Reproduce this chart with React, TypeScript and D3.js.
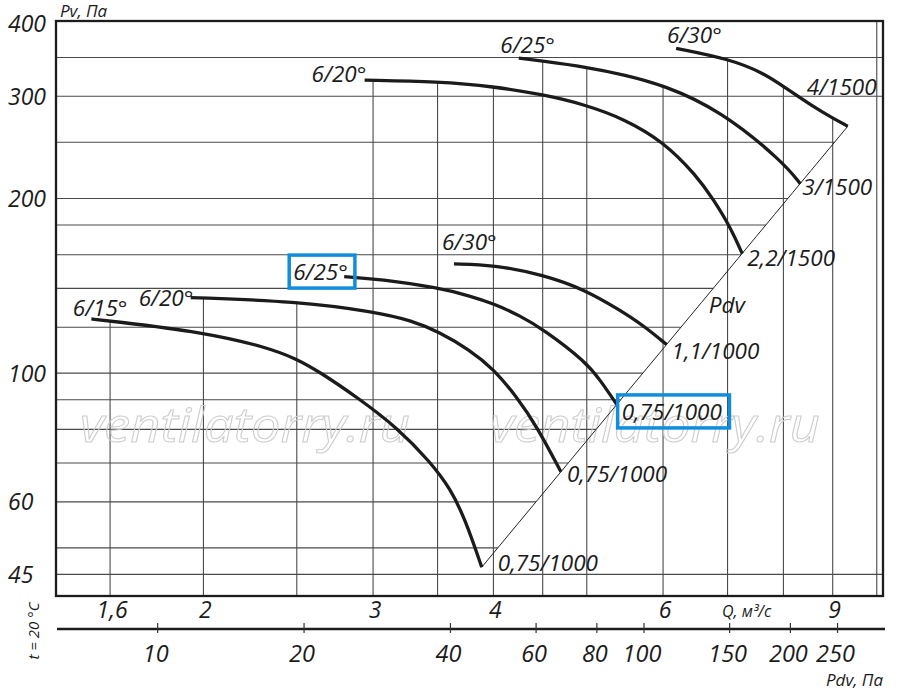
import React, { useEffect, useRef } from 'react';
import * as d3 from 'd3';

// Q, м³/с
const qTicks = [1.6, 2, 3, 4, 6, 9];
const qGrid = [1.6, 2, 2.5, 3, 3.5, 4, 4.5, 5, 6, 7, 8, 9, 10];
// Pv, Па
const pvTicks = [45, 60, 100, 200, 300, 400];
const pvGrid = [45, 50, 60, 70, 80, 90, 100, 120, 140, 160, 180, 200, 250, 300, 350];
// Pdv, Па
const pdvTicks = [10, 20, 40, 60, 80, 100, 150, 200, 250];
// Pdv = k * Q^2 (линия Pdv)
const pdvCoef = 3.06;

const bladeLabels = ['6/15°', '6/20°', '6/25°', '6/30°', '6/20°', '6/25°', '6/30°'];
const motorLabels = ['0,75/1000', '0,75/1000', '0,75/1000', '1,1/1000', '2,2/1500', '3/1500', '4/1500'];

// 1000 об/мин
const q15a = [1.53, 1.6, 2.0, 2.33, 2.5, 2.64, 2.89, 3.18, 3.44, 3.61, 3.74, 3.89];
const pv15a = [124, 123, 117.7, 110.8, 105.8, 100.5, 90.8, 80.5, 70.3, 63.2, 55.9, 46.3];
const q20a = [1.94, 2.5, 3.0, 3.3, 3.51, 3.78, 4.0, 4.23, 4.44, 4.7];
const pv20a = [135, 133, 127.7, 123.1, 117.8, 109.7, 101.7, 91, 80.8, 67.6];
const q25a = [2.8, 3.05, 3.51, 3.78, 4.0, 4.26, 4.51, 4.99, 5.16, 5.37];
const pv25a = [146.7, 145.2, 140.3, 135.9, 131.8, 125.7, 118.9, 104.6, 97.4, 88.4];
const q30a = [3.64, 4.0, 4.51, 4.98, 5.41, 5.75, 6.05];
const pv30a = [154.3, 153.7, 147.7, 139.2, 128.5, 120.2, 112];
// 1500 об/мин
const q20b = [2.94, 3.51, 4.0, 4.51, 4.99, 5.46, 6.0, 6.5, 6.77, 7.04, 7.25];
const pv20b = [320, 318, 312, 302, 290, 274.5, 251, 219, 199, 179, 160.7];
const q25b = [4.25, 4.51, 4.99, 5.46, 6.0, 6.88, 8.0, 8.33];
const pv25b = [349, 345, 337, 327, 314, 284, 231, 212];
const q30b = [6.19, 7.03, 7.63, 8.0, 8.59, 8.99, 9.33];
const pv30b = [363, 348, 329, 312, 288, 275.5, 266.4];

const curveQ = [q15a, q20a, q25a, q30a, q20b, q25b, q30b];
const curvePv = [pv15a, pv20a, pv25a, pv30a, pv20b, pv25b, pv30b];

// смещения подписей (px)
const startLabelOffset = [[-18.6, -3], [-52, 8], [-51, 3.5], [-12, -14], [-53, 2], [-18.5, -5.5], [-9, -5]];
const endLabelOffset = [[16, 3.5], [6, 10], [5, 15.7], [5, 14], [5, 12], [2, 11], [-41, -31]];
const highlighted = 2;

const W = 900;
const H = 695;
const FONT = "'Open Sans', 'DejaVu Sans', sans-serif";

const pvAt = (qs: number[], ps: number[], q: number): number | null => {
	if (q < qs[0] || q > qs[qs.length - 1]) return null;
	for (let i = 0; i < qs.length - 1; i++) {
		if (q >= qs[i] && q <= qs[i + 1]) {
			const t = (Math.log(q) - Math.log(qs[i])) / (Math.log(qs[i + 1]) - Math.log(qs[i]));
			return Math.exp(Math.log(ps[i]) + t * (Math.log(ps[i + 1]) - Math.log(ps[i])));
		}
	}
	return ps[ps.length - 1];
};

const FanChart: React.FC = () => {
	const svgRef = useRef<SVGSVGElement | null>(null);

	useEffect(() => {
		if (!svgRef.current) return;
		const left = 56;
		const right = 883;
		const top = 21;
		const bottom = 596;
		const pdvY = 629;

		const x = d3.scaleLog().domain([1.406, 10.15]).range([left, right]);
		const y = d3.scaleLog().domain([41.3, 404.5]).range([bottom, top]);
		const xPdv = d3.scaleLog().domain([6.18, 313]).range([left, 885]);

		const svg = d3.select(svgRef.current);
		svg.selectAll('*').remove();
		svg.append('rect').attr('width', W).attr('height', H).attr('fill', 'white');

		const ends = curveQ.map((q) => q[q.length - 1]);
		const diagQ0 = d3.min(ends) as number;
		const diagQ1 = d3.max(ends) as number;
		const diagP0 = pdvCoef * diagQ0 * diagQ0;
		const diagP1 = pdvCoef * diagQ1 * diagQ1;

		// сетка
		const grid = svg.append('g').attr('stroke', '#4a4a4a').attr('stroke-width', 1.1);
		grid
			.selectAll('line.h')
			.data(pvGrid)
			.join('line')
			.attr('class', 'h')
			.attr('x1', left)
			.attr('x2', (p) => (p >= diagP0 && p <= diagP1 ? x(Math.sqrt(p / pdvCoef)) : right))
			.attr('y1', (p) => y(p))
			.attr('y2', (p) => y(p));
		grid
			.selectAll('line.v')
			.data(qGrid)
			.join('line')
			.attr('class', 'v')
			.attr('x1', (q) => x(q))
			.attr('x2', (q) => x(q))
			.attr('y1', (q) => {
				const vals = curveQ
					.map((qs, i) => pvAt(qs, curvePv[i], q))
					.filter((v) => v !== null) as number[];
				return vals.length ? y(d3.max(vals) as number) : top;
			})
			.attr('y2', bottom);

		// водяной знак
		svg
			.append('g')
			.selectAll('text')
			.data([80, 490])
			.join('text')
			.attr('x', (d) => d)
			.attr('y', 442)
			.attr('textLength', 330)
			.attr('lengthAdjust', 'spacingAndGlyphs')
			.attr('font-family', FONT)
			.attr('font-style', 'italic')
			.attr('font-size', 47)
			.attr('fill', 'none')
			.attr('stroke', '#cdcdcd')
			.attr('stroke-width', 1)
			.text('ventilatorry.ru');

		// рамка
		svg
			.append('rect')
			.attr('x', left)
			.attr('y', top)
			.attr('width', right - left)
			.attr('height', bottom - top)
			.attr('fill', 'none')
			.attr('stroke', '#1c1c1c')
			.attr('stroke-width', 2.3);

		// линия Pdv
		const diagPts = d3.range(0, 21).map((i) => diagQ0 * Math.pow(diagQ1 / diagQ0, i / 20));
		svg
			.append('path')
			.attr('d', d3.line<number>().x((q) => x(q)).y((q) => y(pdvCoef * q * q))(diagPts))
			.attr('fill', 'none')
			.attr('stroke', '#222')
			.attr('stroke-width', 1);

		// кривые
		const line = d3
			.line<[number, number]>()
			.x((d) => x(d[0]))
			.y((d) => y(d[1]))
			.curve(d3.curveBasis);
		svg
			.append('g')
			.selectAll('path')
			.data(curveQ.map((qs, i) => qs.map((q, j) => [q, curvePv[i][j]] as [number, number])))
			.join('path')
			.attr('d', (d) => line(d))
			.attr('fill', 'none')
			.attr('stroke', '#1b1b1b')
			.attr('stroke-width', 3.3);

		const labels = svg
			.append('g')
			.attr('font-family', FONT)
			.attr('font-style', 'italic')
			.attr('font-size', 22.5)
			.attr('fill', '#1b1b1b');

		const boxes: SVGTextElement[] = [];
		curveQ.forEach((qs, i) => {
			const ps = curvePv[i];
			const s = labels
				.append('text')
				.attr('x', x(qs[0]) + startLabelOffset[i][0])
				.attr('y', y(ps[0]) + startLabelOffset[i][1])
				.text(bladeLabels[i]);
			const n = qs.length - 1;
			const e = labels
				.append('text')
				.attr('x', x(qs[n]) + endLabelOffset[i][0])
				.attr('y', y(ps[n]) + endLabelOffset[i][1])
				.text(motorLabels[i]);
			if (i === highlighted) boxes.push(s.node() as SVGTextElement, e.node() as SVGTextElement);
		});

		boxes.forEach((t) => {
			const b = t.getBBox();
			svg
				.append('rect')
				.attr('x', b.x - 4)
				.attr('y', b.y - 1)
				.attr('width', b.width + 11)
				.attr('height', b.height + 2)
				.attr('fill', 'none')
				.attr('stroke', '#108ddd')
				.attr('stroke-width', 3.5);
		});

		// подпись Pdv у линии
		const pdvAnchorQ = Math.sqrt(130 / pdvCoef);
		labels
			.append('text')
			.attr('x', x(pdvAnchorQ) + 11)
			.attr('y', y(130) + 6)
			.text('Pdv');

		// оси
		const axisText = svg
			.append('g')
			.attr('font-family', FONT)
			.attr('font-style', 'italic')
			.attr('fill', '#1b1b1b');

		axisText
			.append('g')
			.attr('font-size', 23)
			.selectAll('text')
			.data(pvTicks)
			.join('text')
			.attr('x', 8)
			.attr('y', (p) => y(p) + 8.5)
			.text((p) => String(p));

		axisText
			.append('g')
			.attr('font-size', 23)
			.attr('text-anchor', 'middle')
			.selectAll('text')
			.data(qTicks)
			.join('text')
			.attr('x', (q) => x(q) + 2)
			.attr('y', 617.5)
			.text((q) => String(q).replace('.', ','));

		svg
			.append('line')
			.attr('x1', left + 1)
			.attr('x2', 885)
			.attr('y1', pdvY)
			.attr('y2', pdvY)
			.attr('stroke', '#1c1c1c')
			.attr('stroke-width', 2.3);
		svg
			.append('g')
			.attr('stroke', '#333')
			.attr('stroke-width', 1.2)
			.selectAll('line')
			.data(pdvTicks)
			.join('line')
			.attr('x1', (d) => xPdv(d))
			.attr('x2', (d) => xPdv(d))
			.attr('y1', pdvY - 6)
			.attr('y2', pdvY + 4);
		axisText
			.append('g')
			.attr('font-size', 23.5)
			.attr('text-anchor', 'middle')
			.selectAll('text')
			.data(pdvTicks)
			.join('text')
			.attr('x', (d) => xPdv(d) - 2)
			.attr('y', 661.5)
			.text((d) => String(d));

		const small = axisText.append('g').attr('font-size', 17);
		small.append('text').attr('x', 60).attr('y', 16.5).text('Pv, Па');
		small.append('text').attr('x', 722).attr('y', 617).attr('font-size', 16).text('Q, м³/с');
		small.append('text').attr('x', 883).attr('y', 686).attr('text-anchor', 'end').text('Pdv, Па');
		small
			.append('text')
			.attr('transform', 'translate(39,631) rotate(-90)')
			.attr('text-anchor', 'middle')
			.attr('font-size', 15)
			.text('t = 20 °C');
	}, []);

	return <svg ref={svgRef} width={W} height={H} style={{ position: 'absolute', left: 0, top: 0 }}></svg>;
};

export default function App() {
	return <FanChart />;
}
